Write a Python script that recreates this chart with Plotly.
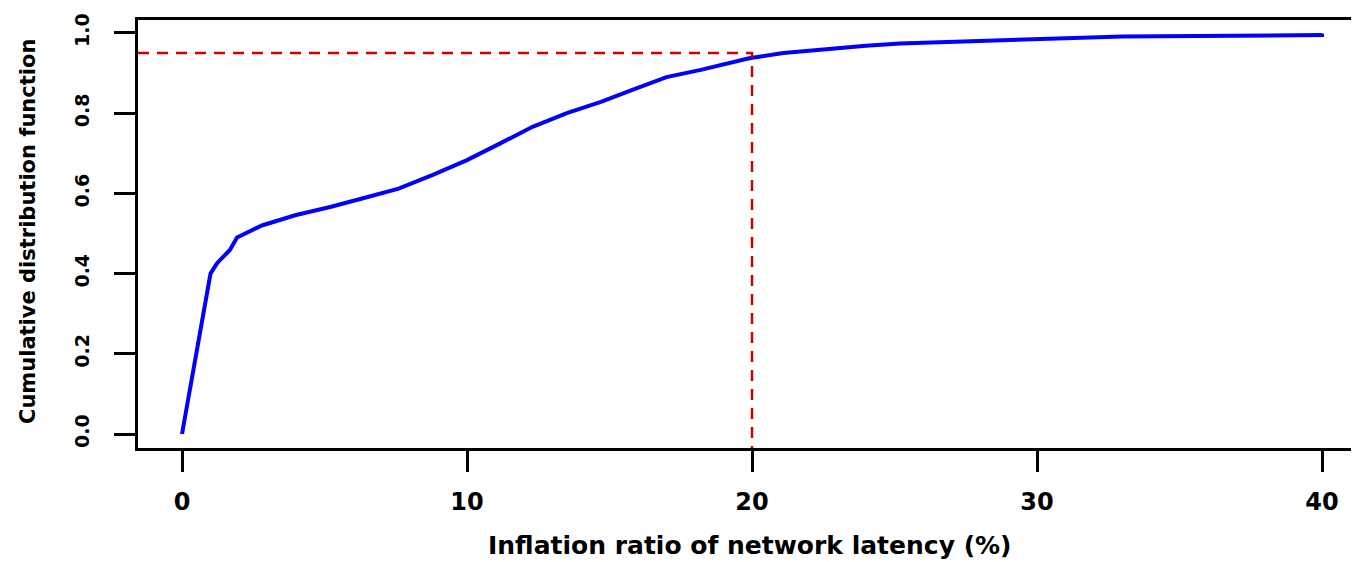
import plotly.graph_objects as go

# ---- data ----
inflation_pct = [0, 1.0, 1.23, 1.68, 1.93, 2.8, 4.0, 5.2, 6.35, 7.6, 8.8, 10.0, 11.2,
                 12.3, 13.5, 14.7, 15.8, 17.0, 18.2, 19.9, 21.1, 22.8, 24.0, 25.2,
                 26.9, 28.1, 31.0, 33.0, 35.7, 40.0, 40.0]
cdf_values = [0.0, 0.40, 0.426, 0.459, 0.49, 0.52, 0.546, 0.566, 0.588, 0.612, 0.646,
              0.683, 0.726, 0.766, 0.80, 0.828, 0.858, 0.89, 0.908, 0.937, 0.95, 0.962,
              0.968, 0.974, 0.978, 0.982, 0.987, 0.991, 0.993, 0.995, 0.999]
ref_quantile = 0.95
ref_inflation = 20
x_ticks = [0, 10, 20, 30, 40]
y_ticks = [0.0, 0.2, 0.4, 0.6, 0.8, 1.0]
x_title = "Inflation ratio of network latency (%)"
y_title = "Cumulative distribution function"

x_range = [-1.544, 41.298]
y_range = [-0.0349, 1.0324]

FONT = "DejaVu Sans"

fig = go.Figure()
fig.add_trace(go.Scatter(
    x=inflation_pct, y=cdf_values, mode="lines",
    line=dict(color="#0000FF", width=4), showlegend=False, hoverinfo="skip"))
fig.add_trace(go.Scatter(
    x=[x_range[0], ref_inflation, ref_inflation],
    y=[ref_quantile, ref_quantile, y_range[0]],
    mode="lines", line=dict(color="#CD0000", width=2.5, dash="11px,8px"),
    showlegend=False, hoverinfo="skip"))

# page body has an 8px margin, so the figure is 8px smaller than the window
fig.update_layout(
    width=1351, height=554,
    margin=dict(l=130, r=0, t=12, b=114, pad=0),
    plot_bgcolor="white", paper_bgcolor="white",
    xaxis=dict(range=x_range, tickvals=x_ticks, ticktext=[str(v) for v in x_ticks],
               showgrid=False, zeroline=False, showline=True, linecolor="black",
               linewidth=3, mirror=True, ticks="outside", ticklen=21, tickwidth=3,
               tickcolor="black", ticklabelstandoff=9,
               tickfont=dict(family=FONT, size=24, color="black", weight="bold")),
    yaxis=dict(range=y_range, tickvals=y_ticks, ticktext=[f"{v:.1f}" for v in y_ticks],
               showgrid=False, zeroline=False, showline=True, linecolor="black",
               linewidth=3, mirror=False, ticks="outside", ticklen=21, tickwidth=3,
               tickcolor="black", tickangle=-90, ticklabelstandoff=17,
               tickfont=dict(family=FONT, size=19, color="black", weight="bold")),
    annotations=[
        dict(text=x_title, xref="paper", yref="paper", x=0.501, y=-0.2640,
             xanchor="center", yanchor="bottom", showarrow=False, borderpad=0,
             font=dict(family=FONT, size=25, color="black", weight="bold")),
        dict(text=y_title, xref="paper", yref="paper", x=-0.0901, y=0.507,
             xanchor="center", yanchor="middle", showarrow=False, textangle=-90,
             font=dict(family=FONT, size=21, color="black", weight="bold")),
    ],
)

fig.write_html("out.html")
